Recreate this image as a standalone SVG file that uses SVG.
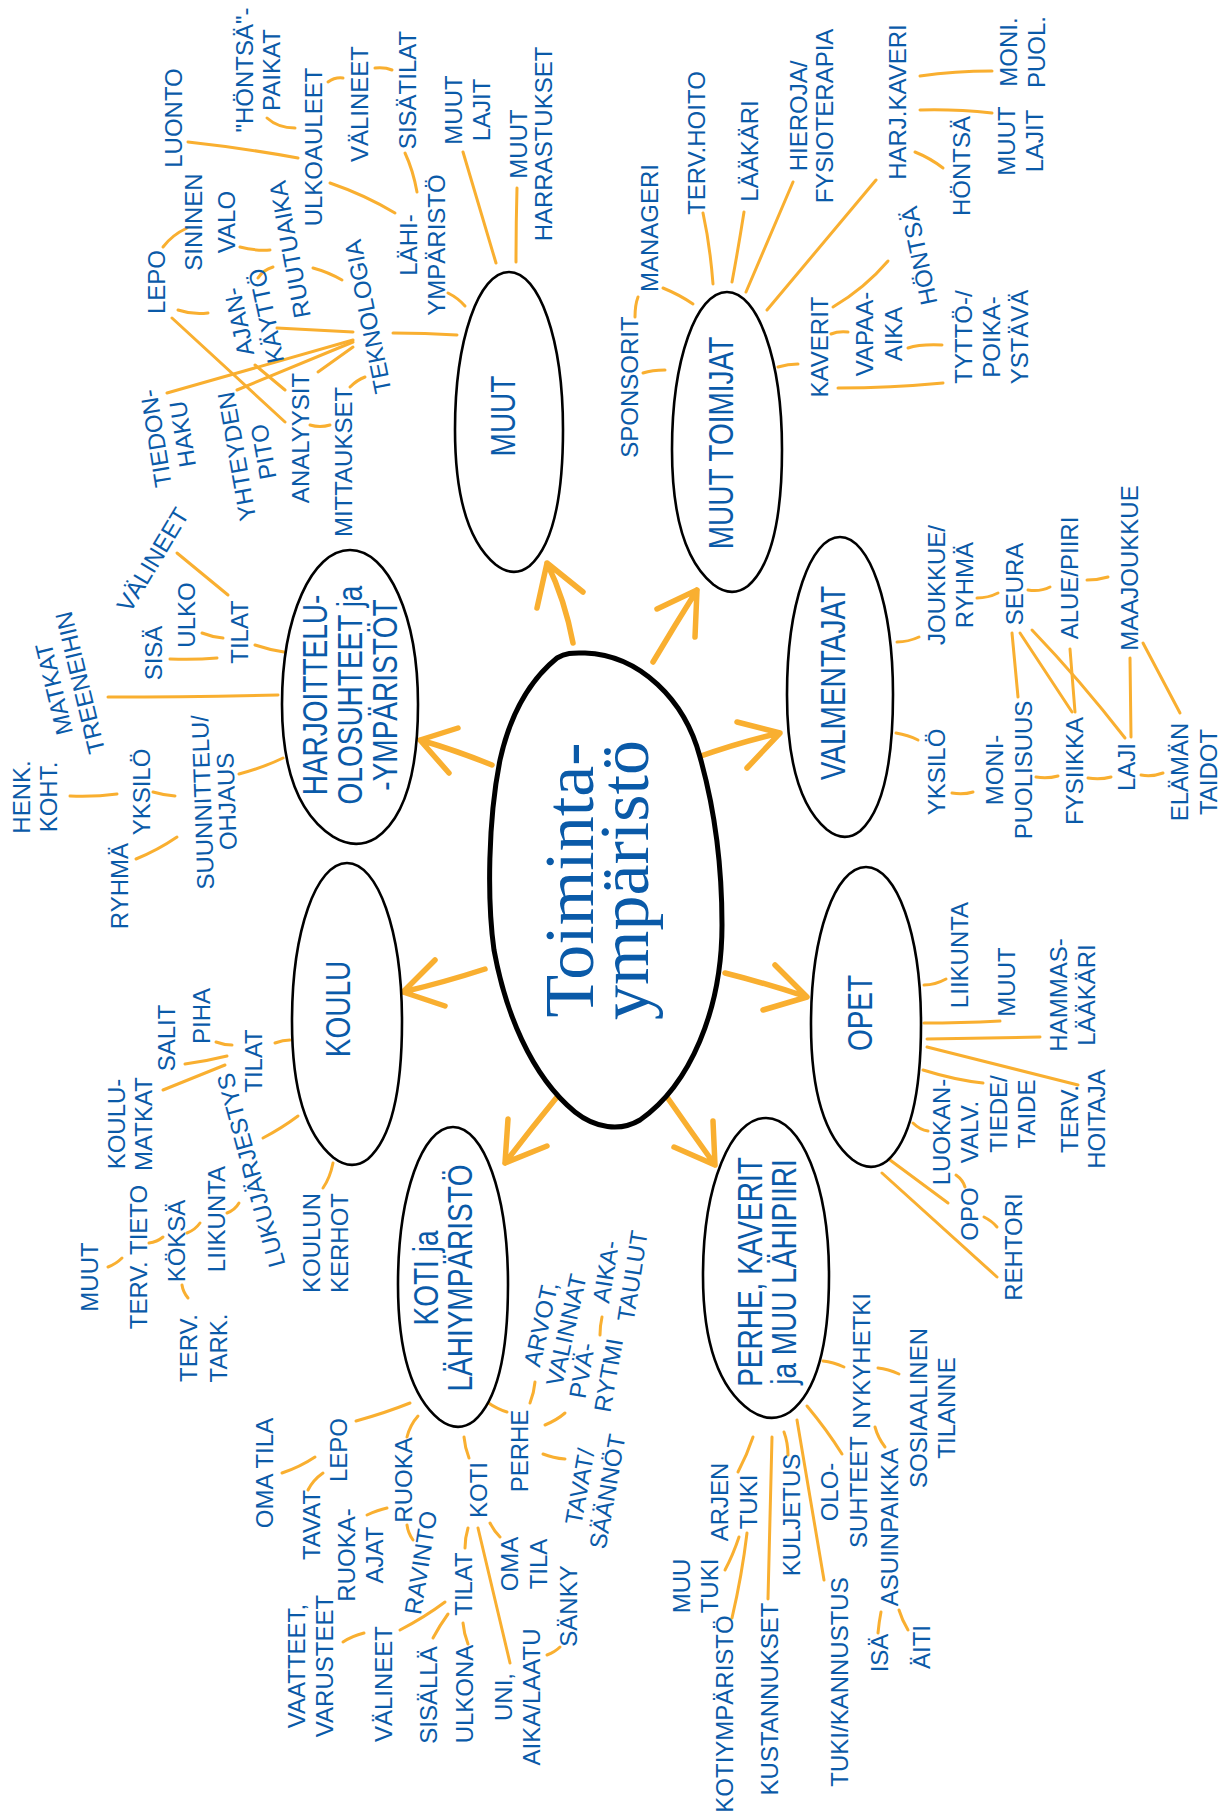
<svg xmlns="http://www.w3.org/2000/svg" xmlns:xlink="http://www.w3.org/1999/xlink" width="1224" height="1816" viewBox="0 0 1224 1816">
<style>
.t{font-family:"Liberation Sans",Arial,sans-serif;font-size:24px;fill:#0a5aa8;text-anchor:middle}
.n{font-family:"Liberation Sans",Arial,sans-serif;font-size:35px;fill:#0a5aa8;text-anchor:middle}
.ttl{font-family:"Liberation Serif","Times New Roman",serif;font-size:70px;fill:#0a5aa8;text-anchor:middle}
.c{fill:none;stroke:#f9af30;stroke-width:3;stroke-linecap:round}
.a{fill:none;stroke:#f9af30;stroke-width:5.5;stroke-linecap:round;stroke-linejoin:round}
.e{fill:#fff;stroke:#000;stroke-width:2.6}
</style>
<defs>
<path id="egg" d="M0,-1 C0.56,-1 1,-0.55 1,0.05 C1,0.5 0.82,0.82 0.38,0.96 C0.2,1.01 0,1.02 -0.25,0.95 C-0.75,0.8 -1,0.5 -1,0.05 C-1,-0.55 -0.56,-1 0,-1 Z" vector-effect="non-scaling-stroke"/>
</defs>
<rect width="1224" height="1816" fill="#fff"/>
<g id="connectors">
<path class="c" d="M188,142 Q243,148 298,158"/>
<path class="c" d="M267,118 Q278,128 295,128"/>
<path class="c" d="M328,82 Q335,77 343,78"/>
<path class="c" d="M375,68 Q385,67 392,70"/>
<path class="c" d="M405,153 Q413,170 417,192"/>
<path class="c" d="M330,183 Q365,195 395,213"/>
<path class="c" d="M163,247 Q172,235 187,228"/>
<path class="c" d="M240,247 Q255,251 270,250"/>
<path class="c" d="M258,278 Q263,270 273,267"/>
<path class="c" d="M313,268 Q328,272 342,280"/>
<path class="c" d="M178,310 Q193,315 208,313"/>
<path class="c" d="M277,328 Q315,330 353,332"/>
<path class="c" d="M393,333 Q425,333 457,335"/>
<path class="c" d="M172,318 L285,422"/>
<path class="c" d="M167,393 L353,340"/>
<path class="c" d="M237,390 L353,342"/>
<path class="c" d="M318,372 L353,347"/>
<path class="c" d="M255,365 L285,390"/>
<path class="c" d="M350,387 Q357,380 365,377"/>
<path class="c" d="M310,425 Q320,428 330,425"/>
<path class="c" d="M448,293 Q458,298 465,306"/>
<path class="c" d="M463,152 L496,263"/>
<path class="c" d="M517,188 Q516,225 516,262"/>
<path class="c" d="M643,373 Q652,370 665,370"/>
<path class="c" d="M635,317 Q635,305 638,297"/>
<path class="c" d="M663,288 Q680,295 693,304"/>
<path class="c" d="M703,213 Q710,245 713,284"/>
<path class="c" d="M744,212 Q738,250 732,282"/>
<path class="c" d="M793,182 L746,292"/>
<path class="c" d="M876,180 L767,310"/>
<path class="c" d="M778,367 Q788,364 798,364"/>
<path class="c" d="M920,76 Q955,71 992,71"/>
<path class="c" d="M920,110 Q955,109 992,113"/>
<path class="c" d="M915,152 Q930,158 943,168"/>
<path class="c" d="M833,307 Q865,288 888,261"/>
<path class="c" d="M831,334 Q838,331 848,332"/>
<path class="c" d="M908,348 Q920,344 942,345"/>
<path class="c" d="M838,388 Q890,388 943,383"/>
<path class="c" d="M177,553 L228,595"/>
<path class="c" d="M202,633 Q212,637 223,638"/>
<path class="c" d="M170,659 Q195,660 217,658"/>
<path class="c" d="M255,645 Q270,650 284,652"/>
<path class="c" d="M108,697 Q190,697 278,695"/>
<path class="c" d="M70,796 Q95,797 117,794"/>
<path class="c" d="M153,792 Q163,795 175,796"/>
<path class="c" d="M136,859 Q158,850 177,837"/>
<path class="c" d="M239,774 Q262,768 283,758"/>
<path class="c" d="M897,642 Q908,642 919,637"/>
<path class="c" d="M896,733 Q908,735 918,740"/>
<path class="c" d="M952,793 Q963,795 973,792"/>
<path class="c" d="M977,598 Q988,598 998,593"/>
<path class="c" d="M1028,590 Q1040,592 1050,587"/>
<path class="c" d="M1087,580 Q1098,580 1108,577"/>
<path class="c" d="M1012,633 L1018,697"/>
<path class="c" d="M1020,633 L1072,712"/>
<path class="c" d="M1032,630 Q1080,680 1125,738"/>
<path class="c" d="M1070,649 L1075,712"/>
<path class="c" d="M1130,658 L1131,737"/>
<path class="c" d="M1143,643 L1180,713"/>
<path class="c" d="M1036,777 Q1047,779 1058,776"/>
<path class="c" d="M1088,778 Q1100,780 1111,777"/>
<path class="c" d="M1141,775 Q1152,777 1163,773"/>
<path class="c" d="M924,985 Q935,985 946,979"/>
<path class="c" d="M924,1023 Q960,1023 1000,1021"/>
<path class="c" d="M927,1039 Q985,1038 1040,1037"/>
<path class="c" d="M927,1047 L1078,1085"/>
<path class="c" d="M923,1070 Q955,1080 983,1083"/>
<path class="c" d="M913,1123 Q920,1130 928,1131"/>
<path class="c" d="M956,1175 Q963,1180 965,1187"/>
<path class="c" d="M890,1160 L948,1203"/>
<path class="c" d="M882,1173 L997,1277"/>
<path class="c" d="M984,1217 Q992,1221 997,1227"/>
<path class="c" d="M216,1042 Q224,1045 232,1045"/>
<path class="c" d="M185,1064 Q207,1061 227,1056"/>
<path class="c" d="M163,1090 L225,1065"/>
<path class="c" d="M275,1043 Q283,1040 290,1040"/>
<path class="c" d="M263,1138 Q282,1128 298,1116"/>
<path class="c" d="M323,1188 Q330,1178 333,1163"/>
<path class="c" d="M227,1213 Q235,1210 239,1203"/>
<path class="c" d="M187,1233 Q195,1230 200,1223"/>
<path class="c" d="M149,1243 Q157,1242 163,1237"/>
<path class="c" d="M108,1267 Q116,1264 122,1258"/>
<path class="c" d="M182,1285 Q183,1292 188,1298"/>
<path class="c" d="M602,1317 Q600,1326 600,1335"/>
<path class="c" d="M356,1421 Q385,1413 410,1403"/>
<path class="c" d="M282,1473 Q300,1467 315,1457"/>
<path class="c" d="M308,1490 Q313,1480 323,1473"/>
<path class="c" d="M407,1437 Q410,1425 418,1416"/>
<path class="c" d="M367,1515 Q378,1510 387,1508"/>
<path class="c" d="M407,1525 Q408,1533 413,1540"/>
<path class="c" d="M343,1642 Q352,1636 364,1633"/>
<path class="c" d="M400,1630 Q425,1617 445,1602"/>
<path class="c" d="M487,1402 Q497,1409 507,1412"/>
<path class="c" d="M530,1403 Q534,1393 535,1382"/>
<path class="c" d="M545,1425 Q557,1420 565,1413"/>
<path class="c" d="M543,1454 Q553,1458 565,1459"/>
<path class="c" d="M464,1437 Q465,1448 469,1458"/>
<path class="c" d="M490,1523 Q494,1531 500,1537"/>
<path class="c" d="M478,1528 L510,1663"/>
<path class="c" d="M468,1528 Q465,1538 465,1548"/>
<path class="c" d="M433,1638 Q440,1625 448,1614"/>
<path class="c" d="M463,1623 Q464,1634 468,1644"/>
<path class="c" d="M547,1655 Q555,1652 560,1647"/>
<path class="c" d="M753,1437 Q747,1455 738,1472"/>
<path class="c" d="M739,1537 Q733,1555 725,1570"/>
<path class="c" d="M747,1533 Q742,1575 732,1618"/>
<path class="c" d="M772,1437 Q770,1520 768,1599"/>
<path class="c" d="M784,1432 Q788,1443 788,1455"/>
<path class="c" d="M797,1420 L824,1580"/>
<path class="c" d="M807,1406 Q827,1430 842,1454"/>
<path class="c" d="M823,1361 Q833,1362 844,1367"/>
<path class="c" d="M878,1368 Q888,1369 899,1374"/>
<path class="c" d="M875,1427 Q878,1438 885,1447"/>
<path class="c" d="M881,1612 Q879,1622 878,1633"/>
<path class="c" d="M899,1610 Q902,1620 908,1630"/>
<g id="arrows">
<path class="a" d="M573,643 Q565,600 547,563 M537,608 L547,563 L583,592"/>
<path class="a" d="M653,662 Q675,625 697,590 M657,609 L697,590 L695,637"/>
<path class="a" d="M492,765 Q455,750 420,740 M458,728 L420,740 L449,773"/>
<path class="a" d="M698,757 Q740,742 780,733 M737,722 L780,733 L747,768"/>
<path class="a" d="M485,969 Q445,982 403,992 M435,960 L403,992 L445,1006"/>
<path class="a" d="M725,973 Q765,983 807,997 M775,965 L807,997 L763,1010"/>
<path class="a" d="M557,1097 Q530,1130 505,1163 M508,1119 L505,1163 L547,1146"/>
<path class="a" d="M667,1097 Q690,1130 715,1165 M713,1121 L715,1165 L674,1147"/>
</g>
</g>
<g id="center">
<path d="M585,653 C640,655 685,700 700,757 C715,810 722,870 722,925 C722,1010 690,1085 640,1120 C620,1132 595,1128 575,1112 C530,1075 505,1010 494,950 C487,900 488,820 500,760 C510,715 530,680 557,658 C567,652 575,653 585,653 Z" fill="#fff" stroke="#000" stroke-width="5"/>
<text class="ttl" transform="translate(593,880) rotate(-90)"><tspan x="0">Toiminta-</tspan><tspan x="0" dy="55">ympäristö</tspan></text>
</g>
<g id="node-muut"><use href="#egg" class="e" transform="translate(509,422) scale(54,150)"/><text class="n" transform="translate(515,416) rotate(-90) scale(0.8,1)">MUUT</text></g>
<g id="node-muut-toimijat"><use href="#egg" class="e" transform="translate(727,442) scale(55,150)"/><text class="n" transform="translate(733,443) rotate(-90) scale(0.8,1)">MUUT TOIMIJAT</text></g>
<g id="node-harjoittelu"><use href="#egg" class="e" transform="translate(350,697) scale(68,147)"/><text class="n" transform="translate(327,695) rotate(-90) scale(0.8,1)"><tspan x="0">HARJOITTELU-</tspan><tspan x="0" dy="35">OLOSUHTEET ja</tspan><tspan x="0" dy="35">-YMPÄRISTÖT</tspan></text></g>
<g id="node-valmentajat"><use href="#egg" class="e" transform="translate(840,687) scale(53,150)"/><text class="n" transform="translate(845,683) rotate(-90) scale(0.8,1)">VALMENTAJAT</text></g>
<g id="node-koulu"><use href="#egg" class="e" transform="translate(347,1014) scale(55,151)"/><text class="n" transform="translate(350,1009) rotate(-90) scale(0.8,1)">KOULU</text></g>
<g id="node-opet"><use href="#egg" class="e" transform="translate(866,1017) scale(55,150)"/><text class="n" transform="translate(872,1013) rotate(-90) scale(0.8,1)">OPET</text></g>
<g id="node-koti"><use href="#egg" class="e" transform="translate(453,1277) scale(55,150)"/><text class="n" transform="translate(438,1278) rotate(-90) scale(0.8,1)"><tspan x="0">KOTI ja</tspan><tspan x="0" dy="34">LÄHIYMPÄRISTÖ</tspan></text></g>
<g id="node-perhe"><use href="#egg" class="e" transform="translate(766,1268) scale(63,150)"/><text class="n" transform="translate(762,1272) rotate(-90) scale(0.8,1)"><tspan x="0">PERHE, KAVERIT</tspan><tspan x="0" dy="34">ja MUU LÄHIPIIRI</tspan></text></g>
<g id="labels">
<g id="l-luonto"><text class="t" transform="translate(182,118) rotate(-90)">LUONTO</text></g>
<g id="l-hontsapaikat"><text class="t" transform="translate(253,70) rotate(-90)"><tspan x="0">"HÖNTSÄ"-</tspan><tspan x="0" dy="27">PAIKAT</tspan></text></g>
<g id="l-ulkoauleet"><text class="t" transform="translate(322,147) rotate(-90)">ULKOAULEET</text></g>
<g id="l-valineet1"><text class="t" transform="translate(368,104) rotate(-90)">VÄLINEET</text></g>
<g id="l-sisatilat"><text class="t" transform="translate(416,90) rotate(-90)">SISÄTILAT</text></g>
<g id="l-lepo1"><text class="t" transform="translate(165,282) rotate(-90)">LEPO</text></g>
<g id="l-sininen"><text class="t" transform="translate(202,222) rotate(-90)"><tspan x="0">SININEN</tspan><tspan x="0" dy="33">VALO</tspan></text></g>
<g id="l-ajankaytto"><text class="t" transform="translate(247,320) rotate(-102)"><tspan x="0">AJAN-</tspan><tspan x="0" dy="28">KÄYTTÖ</tspan></text></g>
<g id="l-ruutuaika"><text class="t" transform="translate(298,248) rotate(-100.6)">RUUTUAIKA</text></g>
<g id="l-teknologia"><text class="t" transform="translate(376,315) rotate(-101.5)">TEKNOLOGIA</text></g>
<g id="l-tiedonhaku"><text class="t" transform="translate(164,437) rotate(-99)"><tspan x="0">TIEDON-</tspan><tspan x="0" dy="27">HAKU</tspan></text></g>
<g id="l-yhteydenpito"><text class="t" transform="translate(245,455) rotate(-100)"><tspan x="0">YHTEYDEN</tspan><tspan x="0" dy="27">PITO</tspan></text></g>
<g id="l-analyysit"><text class="t" transform="translate(309,438) rotate(-90)">ANALYYSIT</text></g>
<g id="l-mittaukset"><text class="t" transform="translate(352,462) rotate(-90)">MITTAUKSET</text></g>
<g id="l-lahiymparisto"><text class="t" transform="translate(417,245) rotate(-90)"><tspan x="0">LÄHI-</tspan><tspan x="0" dy="28">YMPÄRISTÖ</tspan></text></g>
<g id="l-muutlajit1"><text class="t" transform="translate(462,110) rotate(-90)"><tspan x="0">MUUT</tspan><tspan x="0" dy="28">LAJIT</tspan></text></g>
<g id="l-muutharr"><text class="t" transform="translate(527,144) rotate(-90)"><tspan x="0">MUUT</tspan><tspan x="0" dy="25">HARRASTUKSET</tspan></text></g>
<g id="l-sponsorit"><text class="t" transform="translate(638,387) rotate(-90)">SPONSORIT</text></g>
<g id="l-manageri"><text class="t" transform="translate(658,228) rotate(-90)">MANAGERI</text></g>
<g id="l-tervhoito"><text class="t" transform="translate(705,143) rotate(-90)">TERV.HOITO</text></g>
<g id="l-laakari1"><text class="t" transform="translate(758,151) rotate(-90)">LÄÄKÄRI</text></g>
<g id="l-hieroja"><text class="t" transform="translate(807,116) rotate(-90)"><tspan x="0">HIEROJA/</tspan><tspan x="0" dy="26">FYSIOTERAPIA</tspan></text></g>
<g id="l-harjkaveri"><text class="t" transform="translate(906,102) rotate(-90)">HARJ.KAVERI</text></g>
<g id="l-monipuol"><text class="t" transform="translate(1017,52) rotate(-90)"><tspan x="0">MONI.</tspan><tspan x="0" dy="28">PUOL.</tspan></text></g>
<g id="l-muutlajit2"><text class="t" transform="translate(1015,141) rotate(-90)"><tspan x="0">MUUT</tspan><tspan x="0" dy="28">LAJIT</tspan></text></g>
<g id="l-hontsa1"><text class="t" transform="translate(970,166) rotate(-90)">HÖNTSÄ</text></g>
<g id="l-hontsa2"><text class="t" transform="translate(927,254) rotate(-102)">HÖNTSÄ</text></g>
<g id="l-kaverit"><text class="t" transform="translate(828,347) rotate(-90)">KAVERIT</text></g>
<g id="l-vapaa-aika"><text class="t" transform="translate(873,334) rotate(-90)"><tspan x="0">VAPAA-</tspan><tspan x="0" dy="29">AIKA</tspan></text></g>
<g id="l-tytto"><text class="t" transform="translate(972,337) rotate(-90)"><tspan x="0">TYTTÖ-/</tspan><tspan x="0" dy="28">POIKA-</tspan><tspan x="0" dy="28">YSTÄVÄ</tspan></text></g>
<g id="l-valineet2"><text class="t" transform="translate(160,564) rotate(-59)">VÄLINEET</text></g>
<g id="l-sisa"><text class="t" transform="translate(162,653) rotate(-90)">SISÄ</text></g>
<g id="l-ulko"><text class="t" transform="translate(195,615) rotate(-90)">ULKO</text></g>
<g id="l-tilat1"><text class="t" transform="translate(248,632) rotate(-90)">TILAT</text></g>
<g id="l-matkat"><text class="t" transform="translate(62,687) rotate(-103.5)"><tspan x="0">MATKAT</tspan><tspan x="0" dy="27">TREENEIHIN</tspan></text></g>
<g id="l-henkkoht"><text class="t" transform="translate(30,797) rotate(-90)"><tspan x="0">HENK.</tspan><tspan x="0" dy="27">KOHT.</tspan></text></g>
<g id="l-yksilo1"><text class="t" transform="translate(150,792) rotate(-90)">YKSILÖ</text></g>
<g id="l-suunnittelu"><text class="t" transform="translate(211,802) rotate(-92)"><tspan x="0">SUUNNITTELU/</tspan><tspan x="0" dy="24">OHJAUS</tspan></text></g>
<g id="l-ryhma"><text class="t" transform="translate(128,886) rotate(-90)">RYHMÄ</text></g>
<g id="l-joukkue"><text class="t" transform="translate(945,585) rotate(-90)"><tspan x="0">JOUKKUE/</tspan><tspan x="0" dy="28">RYHMÄ</tspan></text></g>
<g id="l-yksilo2"><text class="t" transform="translate(945,772) rotate(-90)">YKSILÖ</text></g>
<g id="l-seura"><text class="t" transform="translate(1023,584) rotate(-90)">SEURA</text></g>
<g id="l-monipuolisuus"><text class="t" transform="translate(1003,770) rotate(-90)"><tspan x="0">MONI-</tspan><tspan x="0" dy="29">PUOLISUUS</tspan></text></g>
<g id="l-aluepiiri"><text class="t" transform="translate(1078,578) rotate(-90)">ALUE/PIIRI</text></g>
<g id="l-fysiikka"><text class="t" transform="translate(1083,771) rotate(-90)">FYSIIKKA</text></g>
<g id="l-maajoukkue"><text class="t" transform="translate(1138,568) rotate(-90)">MAAJOUKKUE</text></g>
<g id="l-laji"><text class="t" transform="translate(1135,767) rotate(-90)">LAJI</text></g>
<g id="l-elamantaidot"><text class="t" transform="translate(1188,772) rotate(-90)"><tspan x="0">ELÄMÄN</tspan><tspan x="0" dy="29">TAIDOT</tspan></text></g>
<g id="l-salit"><text class="t" transform="translate(175,1038) rotate(-90)">SALIT</text></g>
<g id="l-piha"><text class="t" transform="translate(210,1016) rotate(-90)">PIHA</text></g>
<g id="l-tilat2"><text class="t" transform="translate(262,1061) rotate(-90)">TILAT</text></g>
<g id="l-koulumatkat"><text class="t" transform="translate(125,1124) rotate(-90)"><tspan x="0">KOULU-</tspan><tspan x="0" dy="27">MATKAT</tspan></text></g>
<g id="l-lukujarjestys"><text class="t" transform="translate(259,1168) rotate(-105.3)">LUKUJÄRJESTYS</text></g>
<g id="l-muut3"><text class="t" transform="translate(98,1277) rotate(-90)">MUUT</text></g>
<g id="l-tervtieto"><text class="t" transform="translate(147,1257) rotate(-90)">TERV. TIETO</text></g>
<g id="l-koksa"><text class="t" transform="translate(185,1241) rotate(-90)">KÖKSÄ</text></g>
<g id="l-liikunta1"><text class="t" transform="translate(225,1219) rotate(-90)">LIIKUNTA</text></g>
<g id="l-tervtark"><text class="t" transform="translate(197,1348) rotate(-90)"><tspan x="0">TERV.</tspan><tspan x="0" dy="30">TARK.</tspan></text></g>
<g id="l-koulunkerhot"><text class="t" transform="translate(320,1243) rotate(-90)"><tspan x="0">KOULUN</tspan><tspan x="0" dy="28">KERHOT</tspan></text></g>
<g id="l-liikunta2"><text class="t" transform="translate(968,955) rotate(-90)">LIIKUNTA</text></g>
<g id="l-muut4"><text class="t" transform="translate(1015,982) rotate(-90)">MUUT</text></g>
<g id="l-hammas"><text class="t" transform="translate(1067,995) rotate(-90)"><tspan x="0">HAMMAS-</tspan><tspan x="0" dy="28">LÄÄKÄRI</tspan></text></g>
<g id="l-luokanvalv"><text class="t" transform="translate(950,1132) rotate(-90)"><tspan x="0">LUOKAN-</tspan><tspan x="0" dy="28">VALV.</tspan></text></g>
<g id="l-tiedetaide"><text class="t" transform="translate(1007,1114) rotate(-90)"><tspan x="0">TIEDE/</tspan><tspan x="0" dy="28">TAIDE</tspan></text></g>
<g id="l-tervhoitaja"><text class="t" transform="translate(1078,1119) rotate(-90)"><tspan x="0">TERV.</tspan><tspan x="0" dy="27">HOITAJA</tspan></text></g>
<g id="l-opo"><text class="t" transform="translate(978,1214) rotate(-90)">OPO</text></g>
<g id="l-rehtori"><text class="t" transform="translate(1022,1247) rotate(-90)">REHTORI</text></g>
<g id="l-arvot"><text class="t" transform="translate(549,1326) rotate(-77.5)"><tspan x="0">ARVOT,</tspan><tspan x="0" dy="26">VALINNAT</tspan></text></g>
<g id="l-aikataulut"><text class="t" transform="translate(614,1273) rotate(-81)"><tspan x="0">AIKA-</tspan><tspan x="0" dy="27">TAULUT</tspan></text></g>
<g id="l-pvarytmi"><text class="t" transform="translate(590,1372) rotate(-80)"><tspan x="0">PVÄ-</tspan><tspan x="0" dy="27">RYTMI</tspan></text></g>
<g id="l-omatila1"><text class="t" transform="translate(273,1473) rotate(-90)">OMA TILA</text></g>
<g id="l-lepo2"><text class="t" transform="translate(347,1450) rotate(-90)">LEPO</text></g>
<g id="l-tavat"><text class="t" transform="translate(320,1525) rotate(-90)">TAVAT</text></g>
<g id="l-ruoka-ajat"><text class="t" transform="translate(355,1555) rotate(-90)"><tspan x="0">RUOKA-</tspan><tspan x="0" dy="28">AJAT</tspan></text></g>
<g id="l-ruoka"><text class="t" transform="translate(412,1480) rotate(-90)">RUOKA</text></g>
<g id="l-ravinto"><text class="t" transform="translate(429,1564) rotate(-81)">RAVINTO</text></g>
<g id="l-vaatteet"><text class="t" transform="translate(305,1666) rotate(-90)"><tspan x="0">VAATTEET,</tspan><tspan x="0" dy="28">VARUSTEET</tspan></text></g>
<g id="l-valineet3"><text class="t" transform="translate(392,1684) rotate(-90)">VÄLINEET</text></g>
<g id="l-sisalla"><text class="t" transform="translate(437,1695) rotate(-90)">SISÄLLÄ</text></g>
<g id="l-tilat3"><text class="t" transform="translate(472,1584) rotate(-90)">TILAT</text></g>
<g id="l-koti"><text class="t" transform="translate(487,1490) rotate(-90)">KOTI</text></g>
<g id="l-omatila2"><text class="t" transform="translate(518,1564) rotate(-90)"><tspan x="0">OMA</tspan><tspan x="0" dy="29">TILA</tspan></text></g>
<g id="l-perhe"><text class="t" transform="translate(528,1451) rotate(-90)">PERHE</text></g>
<g id="l-tavatsaannot"><text class="t" transform="translate(588,1488) rotate(-80)"><tspan x="0">TAVAT/</tspan><tspan x="0" dy="28">SÄÄNNÖT</tspan></text></g>
<g id="l-sanky"><text class="t" transform="translate(577,1606) rotate(-90)">SÄNKY</text></g>
<g id="l-uni"><text class="t" transform="translate(512,1697) rotate(-90)"><tspan x="0">UNI,</tspan><tspan x="0" dy="28">AIKA/LAATU</tspan></text></g>
<g id="l-ulkona"><text class="t" transform="translate(473,1694) rotate(-90)">ULKONA</text></g>
<g id="l-arjentuki"><text class="t" transform="translate(728,1502) rotate(-90)"><tspan x="0">ARJEN</tspan><tspan x="0" dy="29">TUKI</tspan></text></g>
<g id="l-muutuki"><text class="t" transform="translate(690,1586) rotate(-90)"><tspan x="0">MUU</tspan><tspan x="0" dy="28">TUKI</tspan></text></g>
<g id="l-kotiymparisto"><text class="t" transform="translate(733,1714) rotate(-90)">KOTIYMPÄRISTÖ</text></g>
<g id="l-kustannukset"><text class="t" transform="translate(778,1699) rotate(-90)">KUSTANNUKSET</text></g>
<g id="l-kuljetus"><text class="t" transform="translate(800,1515) rotate(-90)">KULJETUS</text></g>
<g id="l-tukikannustus"><text class="t" transform="translate(848,1682) rotate(-90)">TUKI/KANNUSTUS</text></g>
<g id="l-olosuhteet"><text class="t" transform="translate(838,1492) rotate(-90)"><tspan x="0">OLO-</tspan><tspan x="0" dy="29">SUHTEET</tspan></text></g>
<g id="l-nykyhetki"><text class="t" transform="translate(870,1361) rotate(-90)">NYKYHETKI</text></g>
<g id="l-asuinpaikka"><text class="t" transform="translate(898,1527) rotate(-90)">ASUINPAIKKA</text></g>
<g id="l-sosiaalinen"><text class="t" transform="translate(927,1408) rotate(-90)"><tspan x="0">SOSIAALINEN</tspan><tspan x="0" dy="28">TILANNE</tspan></text></g>
<g id="l-isa"><text class="t" transform="translate(888,1653) rotate(-90)">ISÄ</text></g>
<g id="l-aiti"><text class="t" transform="translate(930,1647) rotate(-90)">ÄITI</text></g>
</g>
</svg>
